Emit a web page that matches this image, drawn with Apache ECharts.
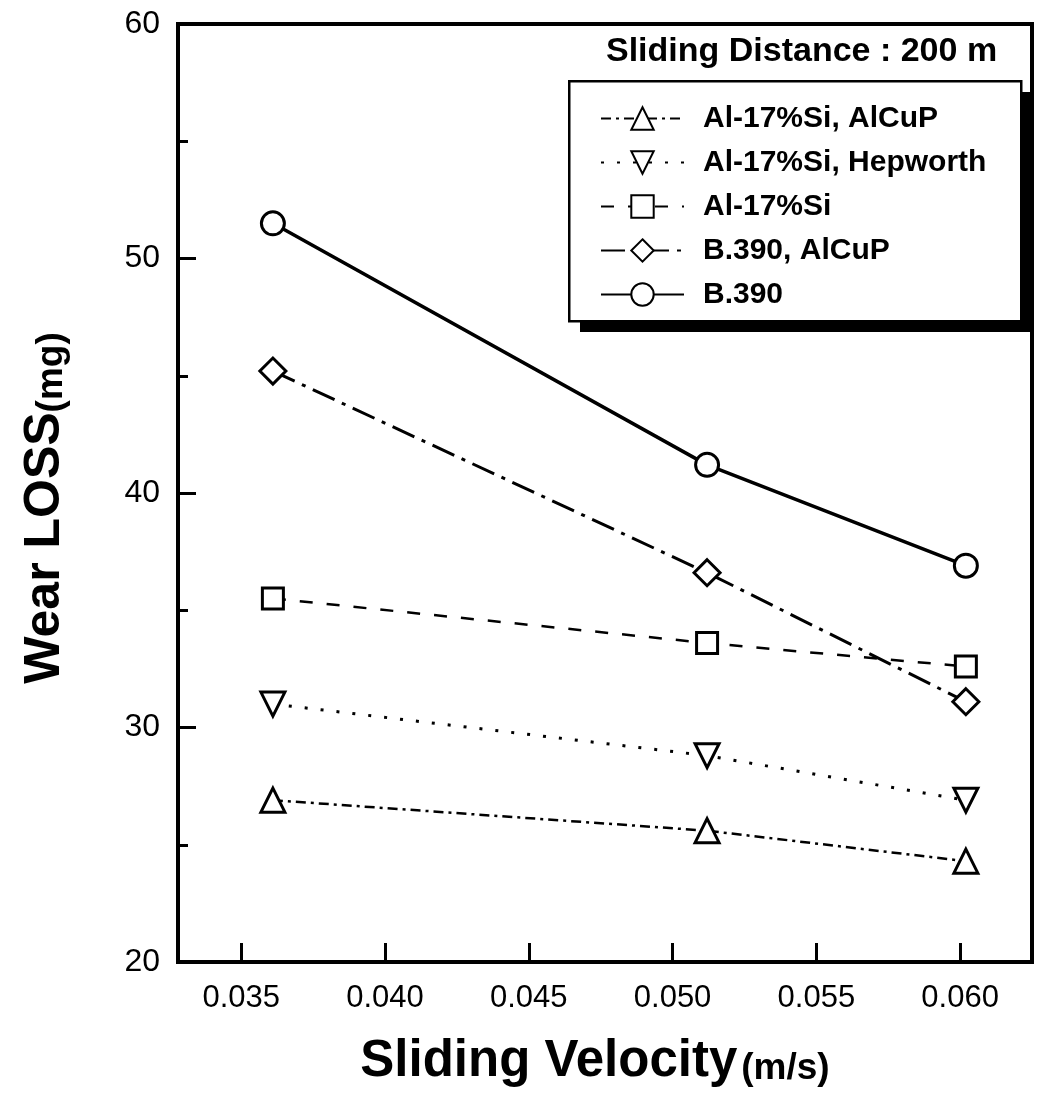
<!DOCTYPE html>
<html>
<head>
<meta charset="utf-8">
<script src="https://cdn.jsdelivr.net/npm/echarts@6/dist/echarts.min.js"></script>
<style>html,body{margin:0;padding:0;background:#fff;}#c{width:1047px;height:1096px;}</style>
</head>
<body>
<div id="c"></div>
<script>
var velocity = [0.0361, 0.0512, 0.0602];
var seriesNames = ['Al-17%Si, AlCuP', 'Al-17%Si, Hepworth', 'Al-17%Si', 'B.390, AlCuP', 'B.390'];
var alSiAlCuP = [26.9, 25.6, 24.3];
var alSiHepworth = [31.0, 28.8, 26.9];
var alSi = [35.5, 33.6, 32.6];
var b390AlCuP = [45.2, 36.6, 31.1];
var b390 = [51.5, 41.2, 36.9];
var xTicks = [0.035, 0.040, 0.045, 0.050, 0.055, 0.060];
var titleText = 'Sliding Distance : 200 m';

function pairs(ys) { return ys.map(function (y, i) { return [velocity[i], y]; }); }

var FONT = '"Liberation Sans", Arial, sans-serif';
function mk(name, ys, symbol, rotate, size, lineType, lineWidth) {
  return {
    name: name, type: 'line', data: pairs(ys),
    symbol: symbol, symbolRotate: rotate, symbolSize: size,
    showAllSymbol: true,
    lineStyle: { color: '#000', width: lineWidth, type: lineType },
    itemStyle: { color: '#fff', borderColor: '#000', borderWidth: 3 },
    emphasis: { disabled: true },
    z: 3
  };
}

var chart = echarts.init(document.getElementById('c'), null, { renderer: 'canvas' });
chart.setOption({
  backgroundColor: '#fff',
  animation: false,
  textStyle: { fontFamily: FONT },
  grid: { left: 178, right: 15, top: 24, bottom: 134, show: true, borderColor: '#000', borderWidth: 4, backgroundColor: 'transparent' },
  xAxis: {
    type: 'value', min: 0.0328, max: 0.0625,
    axisLine: { show: true, lineStyle: { color: '#000', width: 4 } },
    axisTick: { show: true, inside: true, length: 19, customValues: xTicks, lineStyle: { color: '#000', width: 3 } },
    axisLabel: { customValues: xTicks, color: '#000', fontSize: 31, fontFamily: FONT, margin: 21,
      formatter: function (v) { return v.toFixed(3); } },
    splitLine: { show: false },
    name: '{a|Sliding Velocity}{b|(m/s)}',
    nameLocation: 'middle', nameGap: 73,
    nameTextStyle: {
      rich: {
        a: { fontSize: 51, fontWeight: 'bold', color: '#000', fontFamily: FONT, verticalAlign: 'bottom', lineHeight: 52 },
        b: { fontSize: 37, fontWeight: 'bold', color: '#000', fontFamily: FONT, verticalAlign: 'bottom', lineHeight: 52, padding: [0, 20, 0, 4] }
      }
    }
  },
  yAxis: {
    type: 'value', min: 20, max: 60, interval: 10,
    axisLine: { show: true, lineStyle: { color: '#000', width: 4 } },
    axisTick: { show: true, inside: true, length: 18, lineStyle: { color: '#000', width: 3 } },
    minorTick: { show: true, splitNumber: 2, length: 10, lineStyle: { color: '#000', width: 3 } },
    axisLabel: { color: '#000', fontSize: 32, fontFamily: FONT, margin: 18 },
    splitLine: { show: false },
    name: '{a|Wear LOSS}{b|(mg)}',
    nameLocation: 'middle', nameGap: 108, nameRotate: 90,
    nameTextStyle: {
      rich: {
        a: { fontSize: 50, fontWeight: 'bold', color: '#000', fontFamily: FONT, verticalAlign: 'bottom', lineHeight: 52 },
        b: { fontSize: 37, fontWeight: 'bold', color: '#000', fontFamily: FONT, verticalAlign: 'bottom', lineHeight: 52, padding: [0, 30, 0, 0] }
      }
    }
  },
  legend: {
    orient: 'vertical', left: 568, top: 80, z: 10,
    data: seriesNames,
    backgroundColor: 'transparent', borderWidth: 0,
    padding: [23, 30, 12, 32],
    itemWidth: 83, itemHeight: 28, itemGap: 13,
    textStyle: { fontSize: 30, fontWeight: 'bold', color: '#000', fontFamily: FONT, lineHeight: 31, padding: [0, 0, 0, 14] },
    selectedMode: false
  },
  graphic: [
    { type: 'rect', left: 580, top: 92, z: 5, shape: { width: 452, height: 240 }, style: { fill: '#000' } },
    { type: 'rect', left: 568, top: 80, z: 6, shape: { width: 452, height: 240 }, style: { fill: '#fff', stroke: '#000', lineWidth: 2.5 } },
    { type: 'text', left: 606, top: 35, z: 10,
      style: { text: titleText, font: 'bold 34px ' + FONT, fill: '#000' } }
  ],
  series: [
    mk(seriesNames[0], alSiAlCuP, 'triangle', 0, 24, [10, 5, 3, 5], 2.5),
    mk(seriesNames[1], alSiHepworth, 'triangle', 180, 24, [3, 13], 3),
    mk(seriesNames[2], alSi, 'rect', 0, 21, [13, 14], 2.5),
    mk(seriesNames[3], b390AlCuP, 'diamond', 0, 26, [24, 8, 4, 8], 3),
    mk(seriesNames[4], b390, 'circle', 0, 23, 'solid', 3.5)
  ]
});
</script>
</body>
</html>
